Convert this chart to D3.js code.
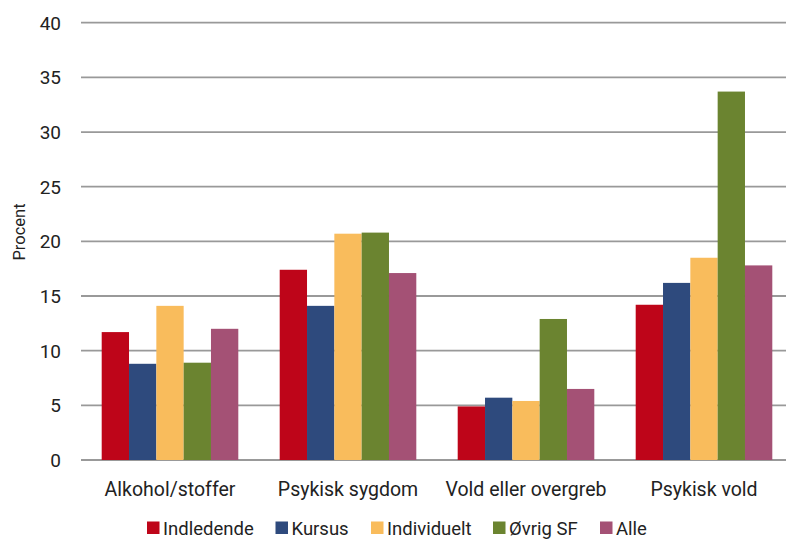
<!DOCTYPE html>
<html><head><meta charset="utf-8">
<script src="https://cdn.jsdelivr.net/npm/d3@7"></script>
<style>body{margin:0;background:#fff}svg{display:block}text{font-family:Roboto,"DejaVu Sans",sans-serif;fill:#222}</style>
</head><body><svg id="c" width="786" height="539"></svg>
<script>
const categories = ["Alkohol/stoffer","Psykisk sygdom","Vold eller overgreb","Psykisk vold"];
const seriesNames = ["Indledende","Kursus","Individuelt","Øvrig SF","Alle"];
const indledende = [11.7,17.4,4.9,14.2];
const kursus = [8.8,14.1,5.7,16.2];
const individuelt = [14.1,20.7,5.4,18.5];
const oevrigSF = [8.9,20.8,12.9,33.7];
const alle = [12.0,17.1,6.5,17.8];
const yTicks = [0,5,10,15,20,25,30,35,40];
const colors = ["#BE0519","#2E4A7D","#F9BC5C","#6B8430","#A45175"];

const seriesValues = [indledende,kursus,individuelt,oevrigSF,alle];
const svg = d3.select("#c");
const W = 786;
const x = d3.scaleBand().domain(categories).range([81, 793]);
const y = d3.scaleLinear().domain([0,40]).range([460, 22.7]);
const groupW = 136.6;
const xi = d3.scaleBand().domain(seriesNames).range([0, groupW]);

// gridlines
svg.append("g").selectAll("line").data(yTicks).join("line")
  .attr("x1", 81).attr("x2", W).attr("y1", d=>y(d)).attr("y2", d=>y(d))
  .attr("stroke","#999").attr("stroke-width",1.8);

// y tick labels
svg.append("g").selectAll("text").data(yTicks).join("text")
  .attr("x", 61).attr("y", d=>y(d)).attr("dy","0.36em").attr("text-anchor","end")
  .style("font-size","19px").text(d=>d);

svg.append("text").attr("transform","translate(25,232) rotate(-90)")
  .attr("text-anchor","middle").style("font-size","16.5px").text("Procent");

// bars
const g = svg.append("g");
categories.forEach((c,ci)=>{
  const x0 = x(c) + (x.bandwidth()-groupW)/2;
  g.selectAll(null).data(seriesNames).enter().append("rect")
    .attr("x", s=>x0 + xi(s)).attr("width", xi.bandwidth())
    .attr("y", (s,si)=>y(seriesValues[si][ci]))
    .attr("height", (s,si)=>y(0)-y(seriesValues[si][ci]))
    .attr("fill", (s,si)=>colors[si]);
});

// category labels
svg.append("g").selectAll("text").data(categories).join("text")
  .attr("x", d=>x(d)+x.bandwidth()/2).attr("y", 496).attr("text-anchor","middle")
  .style("font-size","19.5px").text(d=>d);

// legend
const legX = [147,275.5,371,493,600];
const leg = svg.append("g");
seriesNames.forEach((s,i)=>{
  leg.append("rect").attr("x",legX[i]).attr("y",521.5).attr("width",12.5).attr("height",12.5).attr("fill",colors[i]);
  leg.append("text").attr("x",legX[i]+16).attr("y",534.5).style("font-size","18.5px").text(s);
});
</script></body></html>
